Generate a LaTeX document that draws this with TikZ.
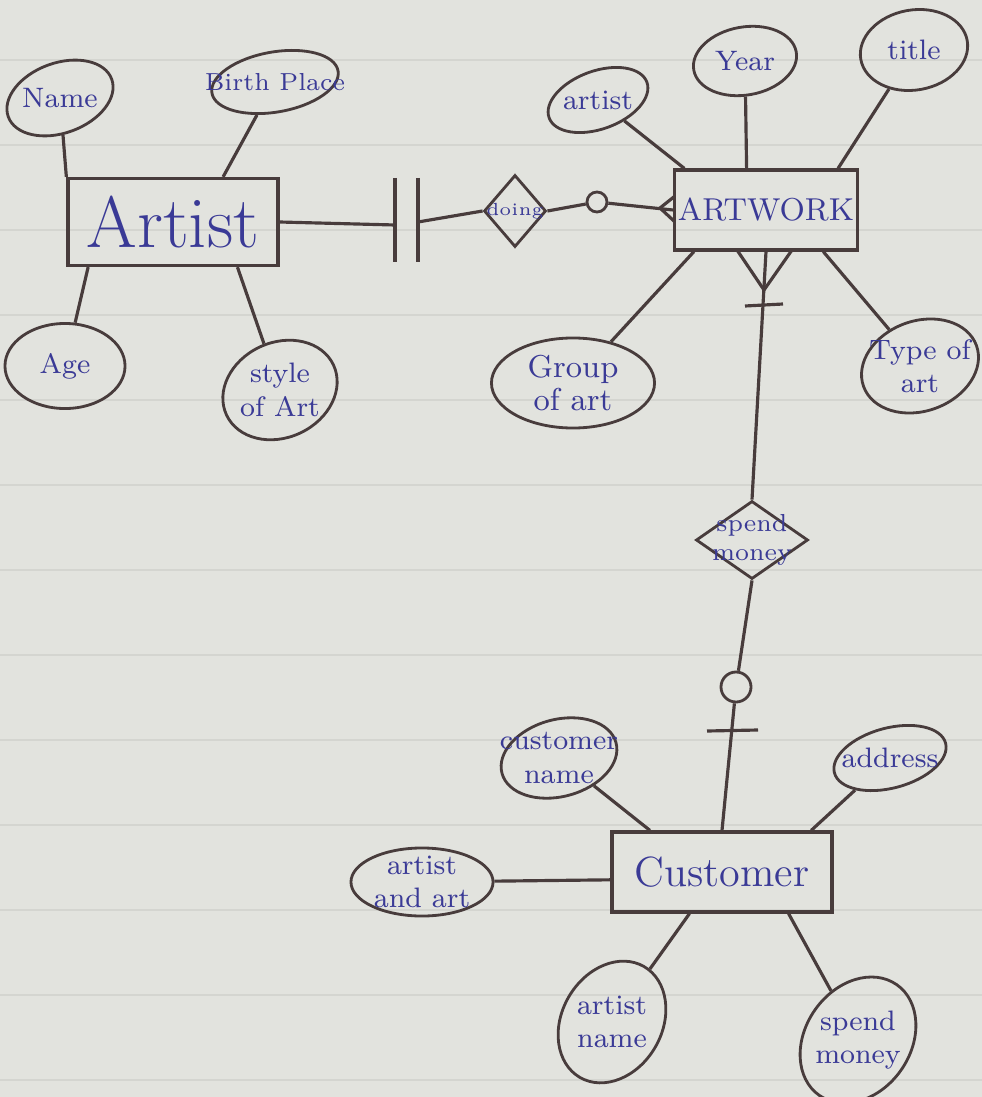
\documentclass[tikz,border=0pt]{standalone}
\usetikzlibrary{shapes.geometric}

\definecolor{ccpaper}{RGB}{226,227,222}
\definecolor{ccrule}{RGB}{212,213,208}
\definecolor{ccpen}{RGB}{72,60,60}
\definecolor{ccink}{RGB}{58,58,150}

\begin{document}
\begin{tikzpicture}[x=0.01cm, y=-0.01cm,
  link/.style={color=ccpen, line width=0.9pt},
  entity/.style={draw=ccpen, line width=0.9pt, text=ccink, inner sep=0pt},
  attr/.style={ellipse, draw=ccpen, line width=0.8pt, inner sep=0pt,
    label={[text=ccink, align=center, font=\footnotesize]center:#1}},
  rel/.style={diamond, draw=ccpen, line width=0.8pt, inner sep=0pt,
    label={[text=ccink, align=center, font=\scriptsize]center:#1}},
  opt/.style={circle, draw=ccpen, line width=0.8pt, inner sep=0pt}]

  % Paper
  \fill[ccpaper] (0,0) rectangle (982,1097);
  \useasboundingbox (0,0) rectangle (982,1097);
  \foreach \y in {60,145,230,315,400,485,570,655,740,825,910,995,1080}
    \draw[ccrule, line width=0.4pt] (0,\y) -- (982,\y);

  % Artist
  \node[entity, minimum width=2.1cm, minimum height=0.87cm, font=\huge] (artist) at (173,222) {Artist};
  \node[attr=Name, minimum width=1.1cm, minimum height=0.7cm, rotate=20] (name) at (60,98) {};
  \node[attr={\scriptsize Birth Place}, minimum width=1.28cm, minimum height=0.6cm, rotate=10] (birth) at (275,82) {};
  \node[attr=Age, minimum width=1.2cm, minimum height=0.85cm] (age) at (65,366) {};
  \node[attr={style\\of Art}, minimum width=1.18cm, minimum height=0.95cm, rotate=25] (styleart) at (280,390) {};

  \draw[link] (name) -- (artist.north west);
  \draw[link] (birth) -- (artist.42);
  \draw[link] (age) -- (artist.208);
  \draw[link] (styleart) -- (artist.325);

  % Artwork
  \node[entity, minimum width=1.83cm, minimum height=0.8cm, font=\small] (artwork) at (766,210) {ARTWORK};
  \node[attr=artist, minimum width=1.04cm, minimum height=0.58cm, rotate=20] (artistattr) at (598,100) {};
  \node[attr=Year, minimum width=1.04cm, minimum height=0.68cm, rotate=10] (year) at (745,61) {};
  \node[attr=title, minimum width=1.08cm, minimum height=0.8cm, rotate=10] (title) at (914,50) {};
  \node[attr={\small Group\\\small of art}, minimum width=1.63cm, minimum height=0.9cm] (group) at (573,383) {};
  \node[attr={Type of\\art}, minimum width=1.2cm, minimum height=0.9cm, rotate=20] (type) at (920,366) {};

  \draw[link] (artistattr) -- (artwork.153);
  \draw[link] (year) -- (artwork.115);
  \draw[link] (title) -- (artwork.30);
  \draw[link] (group) -- (artwork.210);
  \draw[link] (type) -- (artwork.324);

  % Customer
  \node[entity, minimum width=2.2cm, minimum height=0.8cm, font=\large] (customer) at (722,872) {Customer};
  \node[attr={customer\\name}, minimum width=1.18cm, minimum height=0.77cm, rotate=15] (custname) at (559,758) {};
  \node[attr=address, minimum width=1.15cm, minimum height=0.6cm, rotate=15] (address) at (890,758) {};
  \node[attr={artist\\and art}, minimum width=1.42cm, minimum height=0.68cm] (artart) at (422,882) {};
  \node[attr={artist\\name}, minimum width=1.28cm, minimum height=1.0cm, rotate=60] (artname) at (612,1022) {};
  \node[attr={spend\\money}, minimum width=1.35cm, minimum height=1.05cm, rotate=55] (spendattr) at (858,1040) {};

  \draw[link] (custname) -- (customer.150);
  \draw[link] (address) -- (customer.25);
  \draw[link] (artart) -- (customer.184);
  \draw[link] (artname) -- (customer.232);
  \draw[link] (spendattr) -- (customer.328);

  % Artist -- doing -- Artwork
  \node[rel={\tiny doing}, minimum width=0.62cm, minimum height=0.72cm] (doing) at (515,211) {};
  \node[opt, minimum size=0.2cm] (optdo) at (597,202) {};
  \coordinate (bara) at (395,225);
  \coordinate (barb) at (418,222);
  \coordinate (bara1) at (395,178);
  \coordinate (bara2) at (395,262);
  \coordinate (barb1) at (418,178);
  \coordinate (barb2) at (418,262);
  \coordinate (crowdo) at (660,208);
  \coordinate (crowdo1) at (675,196);
  \coordinate (crowdo2) at (675,222);
  \draw[link] (artist.east) -- (bara);
  \draw[link] (barb) -- (doing.west);
  \draw[link] (bara1) -- (bara2);
  \draw[link] (barb1) -- (barb2);
  \draw[link] (doing.east) -- (optdo) -- (artwork.west);
  \draw[link] (crowdo1) -- (crowdo) -- (crowdo2);

  % Artwork -- spend money -- Customer
  \node[rel={spend\\money}, minimum width=1.12cm, minimum height=0.78cm] (spend) at (752,540) {};
  \node[opt, minimum size=0.3cm] (mcirc) at (736,687) {};
  \coordinate (footart) at (764,290);
  \coordinate (footart1) at (737,250);
  \coordinate (footart2) at (792,250);
  \coordinate (barart1) at (745,306);
  \coordinate (barart2) at (783,304);
  \coordinate (barcu1) at (707,731);
  \coordinate (barcu2) at (758,730);
  \draw[link] (artwork.south) -- (spend.north);
  \draw[link] (footart1) -- (footart) -- (footart2);
  \draw[link] (barart1) -- (barart2);
  \draw[link] (spend.south) -- (mcirc) -- (customer.north);
  \draw[link] (barcu1) -- (barcu2);

\end{tikzpicture}
\end{document}
